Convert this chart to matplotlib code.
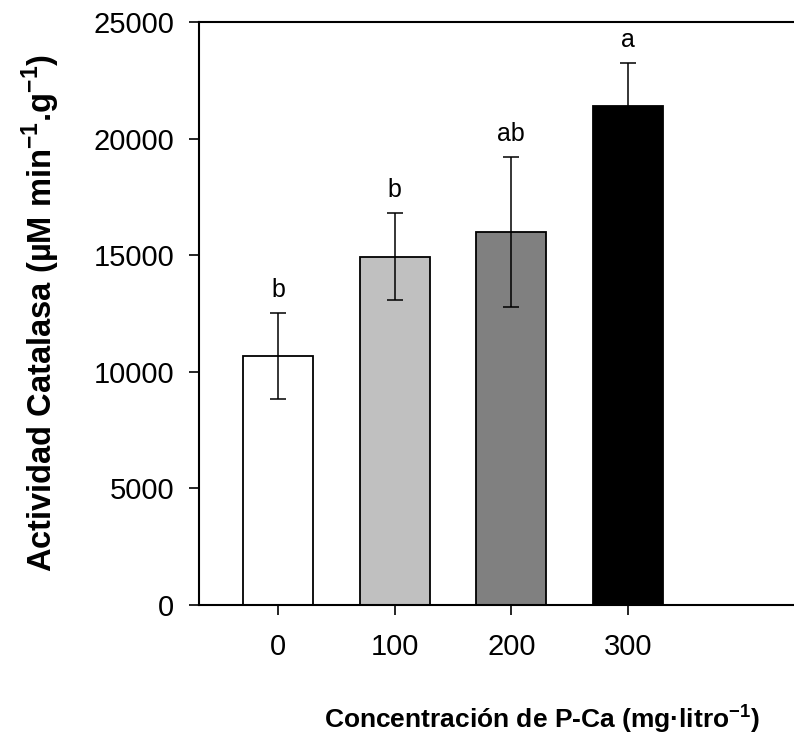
import matplotlib; matplotlib.use("Agg")
import matplotlib.pyplot as plt
import numpy as np

plt.rcParams["font.family"] = ["Liberation Sans", "DejaVu Sans"]
plt.rcParams["mathtext.fontset"] = "custom"
plt.rcParams["mathtext.rm"] = "Liberation Sans"
plt.rcParams["mathtext.bf"] = "Liberation Sans:bold"

# datos
conc = ["0", "100", "200", "300"]
media = [10680, 14940, 16000, 21400]
err = [1840, 1860, 3215, 1830]
letras = ["b", "b", "ab", "a"]
colores = ["white", "#c0c0c0", "#808080", "black"]

fig = plt.figure(figsize=(7.94, 7.48), dpi=100)
ax = fig.add_axes([199/794, (748-605)/748, 1 - 199/794, (605-22)/748])

x = np.arange(len(conc))
ax.bar(x, media, width=0.6, color=colores, edgecolor="black", linewidth=1.3, zorder=2)
ax.errorbar(x, media, yerr=err, fmt="none", ecolor="black", elinewidth=1.1,
            capsize=5.5, capthick=1.1, zorder=3)
for xi, m, e, t in zip(x, media, err, letras):
    ax.annotate(t, (xi, m + e), xytext=(0, 8), textcoords="offset points",
                ha="center", va="bottom", fontsize=18)

ax.set_xlim(-0.677, 4.423)
ax.set_ylim(0, 25000)
ax.set_xticks(x)
ax.set_xticklabels(conc)
ax.set_yticks(np.arange(0, 25001, 5000))
ax.tick_params(direction="out", length=7, width=1.2, labelsize=21)
ax.tick_params(axis="y", pad=11)
ax.tick_params(axis="x", pad=13)
ax.spines["right"].set_visible(False)
for s in ["left", "top", "bottom"]:
    ax.spines[s].set_linewidth(1.5)

ax.set_xlabel(r"Concentración de P-Ca (mg·litro$^{\mathbf{-1}}$)", fontsize=19,
              fontweight="bold")
ax.set_ylabel(r"Actividad Catalasa (µM min$^{\mathbf{-1}}$.g$^{\mathbf{-1}}$)", fontsize=23.5,
              fontweight="bold")
# el eje original continua fuera de la imagen, el titulo x queda descentrado
ax.xaxis.set_label_coords((542 - 199) / 595, -(702 - 605) / 583)
ax.yaxis.set_label_coords((62 - 199) / 595, 0.5)

fig.savefig("out.png", dpi=100)
